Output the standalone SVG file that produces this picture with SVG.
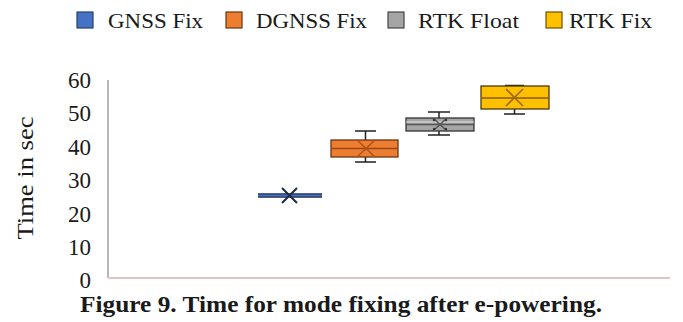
<svg xmlns="http://www.w3.org/2000/svg" width="683" height="322" viewBox="0 0 683 322">
<style>
text{font-family:'Liberation Serif','Times New Roman',Times,serif;fill:#1a1a1a}
.leg{font-size:21px}
.tick{font-size:23px;text-anchor:end}
.wh{stroke:#222;stroke-width:1.5;fill:none}
</style>
<rect width="683" height="322" fill="#fff"/>
<g id="legend">
<rect x="77" y="12" width="16" height="16" fill="#4472C4" stroke="#2a3f66" stroke-width="1.2"/>
<text class="leg" x="108" y="28" textLength="95" lengthAdjust="spacingAndGlyphs">GNSS Fix</text>
<rect x="226" y="12" width="16" height="16" fill="#ED7D31" stroke="#6b3510" stroke-width="1.2"/>
<text class="leg" x="256" y="28" textLength="111" lengthAdjust="spacingAndGlyphs">DGNSS Fix</text>
<rect x="388" y="12" width="16" height="16" fill="#A5A5A5" stroke="#444" stroke-width="1.2"/>
<text class="leg" x="418" y="28" textLength="101" lengthAdjust="spacingAndGlyphs">RTK Float</text>
<rect x="546" y="12" width="16" height="16" fill="#FFC000" stroke="#6b5200" stroke-width="1.2"/>
<text class="leg" x="569" y="28" textLength="83" lengthAdjust="spacingAndGlyphs">RTK Fix</text>
</g>
<g id="axes">
<line x1="108" y1="80" x2="108" y2="278" stroke="#888" stroke-width="1.2"/>
<line x1="108" y1="278" x2="670" y2="278" stroke="#e2c4c6" stroke-width="2"/>
<text class="tick" x="91" y="88">60</text>
<text class="tick" x="91" y="121">50</text>
<text class="tick" x="91" y="155">40</text>
<text class="tick" x="91" y="188">30</text>
<text class="tick" x="91" y="222">20</text>
<text class="tick" x="91" y="255">10</text>
<text class="tick" x="91" y="288">0</text>
<text x="33" y="178" font-size="23" text-anchor="middle" textLength="123" lengthAdjust="spacingAndGlyphs" transform="rotate(-90 33 178)">Time in sec</text>
</g>
<g id="gnss">
<line x1="258" y1="195.5" x2="322" y2="195.5" stroke="#1c2a4a" stroke-width="4.5"/>
<line x1="258" y1="195.5" x2="322" y2="195.5" stroke="#4472C4" stroke-width="1.8"/>
<path d="M282 188 L297 203 M282 203 L297 188" stroke="#1c2a4a" stroke-width="2"/>
</g>
<g id="dgnss">
<path class="wh" d="M355 131 H376 M365.5 131 V140 M365.5 157 V162 M355 162 H376"/>
<rect x="331" y="140" width="67" height="17" fill="#ED7D31" stroke="#6b3510" stroke-width="1.3"/>
<line x1="331" y1="148.5" x2="398" y2="148.5" stroke="#9a4a16" stroke-width="1.5"/>
<path d="M357 140 L375 157 M357 157 L375 140" stroke="#b0531b" stroke-width="1.6"/>
</g>
<g id="rtkfloat">
<path class="wh" d="M428 112 H450 M439 112 V118 M439 131 V135 M428 135 H450"/>
<rect x="406" y="118" width="68" height="13" fill="#A5A5A5" stroke="#333" stroke-width="1.3"/>
<line x1="406" y1="122" x2="474" y2="122" stroke="#e0e0e0" stroke-width="1"/>
<line x1="406" y1="124.5" x2="474" y2="124.5" stroke="#555" stroke-width="1.3"/>
<path d="M433 118 L447 131 M433 131 L447 118" stroke="#555" stroke-width="1.5"/>
<circle cx="434" cy="120" r="1.2" fill="#333"/><circle cx="446" cy="120" r="1.2" fill="#333"/>
<circle cx="434" cy="129" r="1.2" fill="#333"/><circle cx="446" cy="129" r="1.2" fill="#333"/>
</g>
<g id="rtkfix">
<path class="wh" d="M505 85.5 H524 M514.5 109 V114 M504 114 H525"/>
<rect x="481" y="86" width="68" height="23" fill="#FFC000" stroke="#4a3a10" stroke-width="1.3"/>
<line x1="481" y1="98" x2="549" y2="98" stroke="#8a5a10" stroke-width="1.6"/>
<path d="M506 89 L523 106 M506 106 L523 89" stroke="#a06a18" stroke-width="1.6"/>
</g>
<text x="80" y="312" font-size="23" font-weight="bold" textLength="522" lengthAdjust="spacingAndGlyphs">Figure 9. Time for mode fixing after e-powering.</text>
</svg>
